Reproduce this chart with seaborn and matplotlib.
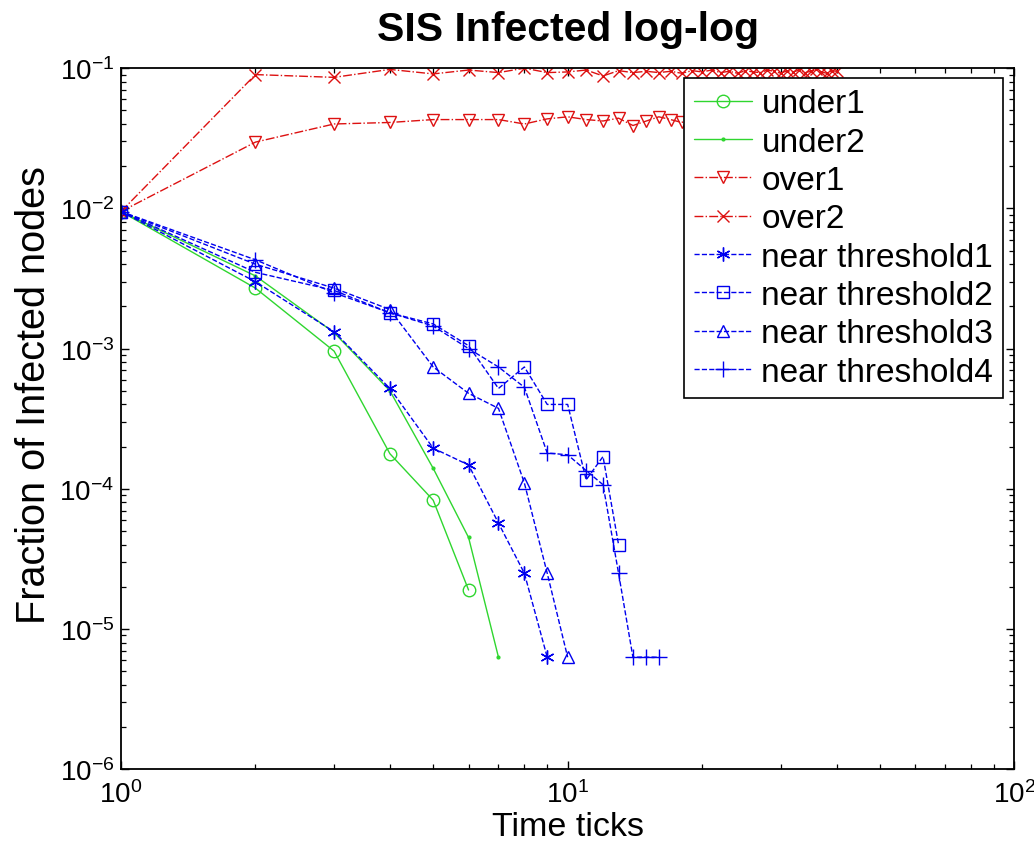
import matplotlib
matplotlib.use("Agg")
import matplotlib.pyplot as plt
import seaborn as sns
import pandas as pd

# ---------------- data ----------------
t_under1 = [1, 2, 3, 4, 5, 6]
under1 = [0.0095, 0.0027, 0.00096, 0.000178, 0.000083, 0.000019]

t_under2 = [1, 2, 3, 4, 5, 6, 7]
under2 = [0.0095, 0.0033, 0.0013, 0.00050, 0.00014, 0.000045, 0.0000063]

t_over = list(range(1, 41))
over1 = [0.0095, 0.0297, 0.040, 0.041, 0.043, 0.043, 0.043, 0.040, 0.0435, 0.045,
         0.043, 0.042, 0.044, 0.039, 0.042, 0.045, 0.043, 0.041, 0.044, 0.042,
         0.043, 0.045, 0.041, 0.043, 0.042, 0.044, 0.040, 0.043, 0.042, 0.044,
         0.041, 0.043, 0.042, 0.044, 0.043, 0.041, 0.042, 0.044, 0.043, 0.042]
over2 = [0.0095, 0.090, 0.086, 0.098, 0.091, 0.097, 0.093, 0.100, 0.093, 0.094,
         0.097, 0.088, 0.096, 0.093, 0.095, 0.093, 0.095, 0.092, 0.096, 0.094,
         0.097, 0.093, 0.095, 0.092, 0.096, 0.094, 0.093, 0.097, 0.095, 0.092,
         0.096, 0.094, 0.097, 0.093, 0.095, 0.098, 0.094, 0.092, 0.096, 0.095]

t_near1 = [1, 2, 3, 4, 5, 6, 7, 8, 9]
near1 = [0.0095, 0.0030, 0.00132, 0.00052, 0.000195, 0.000148, 0.000057, 0.000025, 0.0000063]

t_near2 = [1, 2, 3, 4, 5, 6, 7, 8, 9, 10, 11, 12, 13]
near2 = [0.0095, 0.0035, 0.0026, 0.0018, 0.0015, 0.00105, 0.00052, 0.00074, 0.00040,
         0.00040, 0.000116, 0.000170, 0.000040]

t_near3 = [1, 2, 3, 4, 5, 6, 7, 8, 9, 10]
near3 = [0.0095, 0.0040, 0.0027, 0.0019, 0.00074, 0.00048, 0.000375, 0.00011, 0.000025, 0.0000063]

t_near4 = [1, 2, 3, 4, 5, 6, 7, 8, 9, 10, 11, 12, 13, 14, 15, 16]
near4 = [0.0095, 0.0043, 0.0025, 0.0018, 0.00145, 0.0010, 0.00074, 0.00053, 0.00018,
         0.000175, 0.000135, 0.000107, 0.000025, 0.0000063, 0.0000063, 0.0000063]

labels = ["under1", "under2", "over1", "over2",
          "near threshold1", "near threshold2", "near threshold3", "near threshold4"]

# ---------------- style ----------------
sns.set_theme(style="ticks")
plt.rcParams["font.family"] = ["Liberation Sans", "DejaVu Sans"]
plt.rcParams["mathtext.default"] = "regular"
plt.rcParams.update({
    "text.color": "black", "axes.labelcolor": "black",
    "xtick.labelcolor": "black", "ytick.labelcolor": "black",
    "xtick.direction": "in", "ytick.direction": "in",
    "xtick.top": True, "ytick.right": True,
    "xtick.major.size": 5.5, "ytick.major.size": 5.5,
    "xtick.minor.size": 3.8, "ytick.minor.size": 3.8,
    "xtick.major.width": 1.0, "ytick.major.width": 1.0,
    "xtick.minor.width": 0.9, "ytick.minor.width": 0.9,
    "xtick.color": "black", "ytick.color": "black",
    "axes.edgecolor": "black", "axes.linewidth": 1.3,
})

GREEN = "#2fd62f"
RED = "#dd1111"
BLUE = "#0000ee"
ASTER = (6, 2, 0)

fig = plt.figure(figsize=(10.34, 8.54), dpi=100)
ax = fig.add_axes([0.117, 0.098, 0.864, 0.821])
ax.set_xscale("log")
ax.set_yscale("log")

series = [
    (t_under1, under1, GREEN, "-", "o", 9, "none"),
    (t_under2, under2, GREEN, "-", ".", 4, GREEN),
    (t_over, over1, RED, "-.", "v", 9, "none"),
    (t_over, over2, RED, "-.", "x", 8, "none"),
    (t_near1, near1, BLUE, "--", ASTER, 10, "none"),
    (t_near2, near2, BLUE, "--", "s", 9, "none"),
    (t_near3, near3, BLUE, "--", "^", 9, "none"),
    (t_near4, near4, BLUE, "--", "+", 11, "none"),
]

for (tx, vals, col, ls, mk, ms, mfc), lab in zip(series, labels):
    df = pd.DataFrame({"t": tx, "v": vals})
    sns.lineplot(data=df, x="t", y="v", ax=ax, color=col, linestyle=ls,
                 marker=mk, markersize=ms, markerfacecolor=mfc,
                 markeredgecolor=col, markeredgewidth=1.0, linewidth=1.0,
                 errorbar=None, label=lab)

ax.set_xlim(1, 100)
ax.set_ylim(1e-6, 1e-1)
ax.tick_params(axis="both", which="major", labelsize=20, pad=5)
ax.tick_params(axis="x", which="major", pad=8)

ax.set_title("SIS Infected log-log", fontsize=29.5, fontweight="bold", pad=20)
ax.set_xlabel("Time ticks", fontsize=24.5)
ax.set_ylabel("Fraction of Infected nodes", fontsize=28.5)
ax.xaxis.set_label_coords(0.5, -0.06)
ax.yaxis.set_label_coords(-0.076, 0.535)

leg = ax.legend(loc="upper right", bbox_to_anchor=(0.9877, 0.9857),
                borderaxespad=0, fontsize=24, frameon=True, fancybox=False,
                framealpha=1, edgecolor="black", handlelength=1.75,
                handletextpad=0.28, labelspacing=0.22, borderpad=0.3, numpoints=1)
leg.get_frame().set_linewidth(1.2)

fig.savefig("out.png", dpi=100)
